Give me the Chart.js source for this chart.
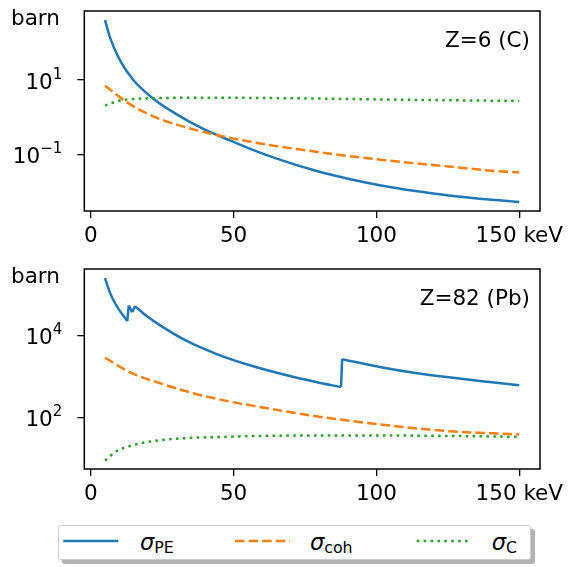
<!DOCTYPE html>
<html>
<head>
<meta charset="utf-8">
<script src="https://cdn.jsdelivr.net/npm/chart.js@4.4.1/dist/chart.umd.min.js"></script>
<style>
  html, body { margin: 0; padding: 0; background: #fff; }
  #wrap { position: relative; width: 576px; height: 567px; overflow: hidden; font-family: "DejaVu Sans"; }
  #wrap canvas { position: absolute; left: 0; }
  #chartC { top: 0; }
  #chartPb { top: 258px; }
  .legend { position: absolute; left: 58px; top: 525px; width: 471px; height: 33px;
            border: 1px solid #cccccc; border-radius: 3px; background: #fff;
            box-shadow: 4px 4px 0 #b3b3b3; }
  .legend svg { position: absolute; left: 0; top: 0; }
  .lab { position: absolute; top: 5px; font-size: 22.5px; line-height: 1; color: #000; white-space: nowrap; }
  .lab i { font-style: oblique; }
  .lab sub { font-size: 15.8px; vertical-align: -3.4px; line-height: 1; }
</style>
</head>
<body>
<div id="wrap">
  <canvas id="chartC" width="576" height="250"></canvas>
  <canvas id="chartPb" width="576" height="250"></canvas>
  <div class="legend">
    <svg width="471" height="33">
      <line x1="4.3" y1="15" x2="59.3" y2="15" stroke="#1f77b4" stroke-width="2.5"/>
      <line x1="176" y1="15" x2="231" y2="15" stroke="#ff7f0e" stroke-width="2.5" stroke-dasharray="9.5 4.1"/>
      <line x1="357.7" y1="15" x2="412.7" y2="15" stroke="#2ca02c" stroke-width="2.5" stroke-dasharray="2.6 4.3"/>
    </svg>
    <span class="lab" style="left:81px"><i>σ</i><sub>PE</sub></span>
    <span class="lab" style="left:251px"><i>σ</i><sub>coh</sub></span>
    <span class="lab" style="left:432.7px"><i>σ</i><sub>C</sub></span>
  </div>
</div>
<script>
const xTicks = [0, 50, 100, 150];
const cTicks = [0.1, 10];
const pbTicks = [100, 10000];

// Z=6 (C), cross sections in barn against photon energy in keV
const cEnergyPE = [5, 6.7, 10.2, 14.9, 21.9, 30.1, 39.4, 47.5, 56, 67.2, 78.8, 90.5, 102.1, 113.7, 125.3, 140.4, 150];
const cPE = [393, 138, 33.1, 9.77, 3.09, 1.175, 0.479, 0.257, 0.138, 0.0676, 0.0363, 0.0219, 0.01445, 0.01035, 0.00785, 0.00603, 0.00531];
const cEnergyCoh = [5, 12.6, 21.9, 30.1, 41.7, 56, 78.8, 102.1, 125.3, 140.4, 150];
const cCoh = [6.9, 2.49, 1.04, 0.625, 0.361, 0.216, 0.117, 0.0706, 0.047, 0.0363, 0.0325];
const cEnergyC = [5, 10.3, 16.1, 22.6, 35, 56, 80, 102, 125, 150];
const cCompton = [2.04, 2.77, 3.07, 3.18, 3.27, 3.24, 3.10, 2.94, 2.80, 2.69];

// Z=82 (Pb)
const pbEnergyPE = [5, 6.8, 8.0, 9.7, 12.8, 13.3, 14.5, 15.5, 19.6, 24.3, 33.6, 44.1, 56, 67.2, 78.8, 87.6, 88.0, 102.1, 113.7, 125.3, 140.4, 150];
const pbPE = [249000, 107000, 70800, 44300, 22300, 53300, 36800, 51500, 29500, 17500, 7280, 3490, 1830, 1120, 728, 547, 2620, 1640, 1200, 944, 716, 605];
const pbEnergyCoh = [5, 13.8, 24.3, 35.9, 47.5, 56, 78.8, 102.1, 125.3, 140.4, 150];
const pbCoh = [2840, 1250, 676, 387, 251, 195, 106, 66, 45.7, 40.7, 38];
const pbEnergyC = [5, 9.1, 13.8, 18.5, 26.6, 35.9, 47.5, 56, 80, 102, 125, 150];
const pbCompton = [8.8, 15.0, 19.9, 23.9, 28.7, 31.6, 33.3, 34.7, 35.9, 35.9, 35.0, 33.4];

const FONT = 'DejaVu Sans';
const BLUE = '#1f77b4', ORANGE = '#ff7f0e', GREEN = '#2ca02c';

function pts(xs, ys) {
  return xs.map((x, i) => ({ x: x, y: ys[i] }));
}

// photoelectric curve: smooth between absorption edges, straight jumps at the edges
function peSets(xs, ys) {
  const out = [];
  let run = [0];
  const flush = () => {
    out.push({ data: run.map(i => ({ x: xs[i], y: ys[i] })), borderColor: BLUE, order: 3,
               cubicInterpolationMode: 'monotone' });
  };
  for (let i = 1; i < xs.length; i++) {
    if (ys[i] > ys[i - 1]) {
      flush();
      out.push({ data: pts([xs[i - 1], xs[i]], [ys[i - 1], ys[i]]), borderColor: BLUE, order: 3 });
      run = [i];
    } else {
      run.push(i);
    }
  }
  flush();
  return out;
}

function sets(ePE, pe, eCoh, coh, eC, comp) {
  return peSets(ePE, pe).concat([
    { data: pts(eCoh, coh), borderColor: ORANGE, borderDash: [9.5, 4.1], order: 2,
      cubicInterpolationMode: 'monotone' },
    { data: pts(eC, comp), borderColor: GREEN, borderDash: [2.6, 4.3], order: 1,
      cubicInterpolationMode: 'monotone' }
  ]);
}

// box round the axes, 10^n labels, unit and element name
const frame = {
  id: 'frame',
  afterDraw(chart, args, opts) {
    const ctx = chart.ctx;
    const a = chart.chartArea;
    const y = chart.scales.y;
    ctx.save();
    ctx.strokeStyle = '#000';
    ctx.lineWidth = 1.5;
    ctx.strokeRect(a.left, a.top, a.right - a.left, a.bottom - a.top);
    ctx.fillStyle = '#000';
    ctx.textAlign = 'right';
    ctx.textBaseline = 'alphabetic';
    y.ticks.forEach(t => {
      const py = y.getPixelForValue(t.value);
      const exp = String(Math.round(Math.log10(t.value))).replace('-', '\u2212');
      const xr = a.left - 22;
      ctx.font = '15px "' + FONT + '"';
      const we = ctx.measureText(exp).width;
      ctx.fillText(exp, xr, py - 1);
      ctx.font = '21.5px "' + FONT + '"';
      ctx.fillText('10', xr - we, py + 9);
    });
    ctx.font = '21.5px "' + FONT + '"';
    ctx.textAlign = 'left';
    ctx.fillText('barn', 11, a.top + 14);
    ctx.textAlign = 'right';
    ctx.fillText(opts.title, a.right - 10, a.top + 36);
    ctx.restore();
  }
};

function makeChart(id, datasets, yMin, yMax, yTicks, title) {
  return new Chart(document.getElementById(id), {
    type: 'line',
    data: { datasets: datasets },
    options: {
      responsive: false,
      animation: false,
      layout: { padding: { left: 0, top: 11, right: 36, bottom: 0 } },
      elements: {
        point: { radius: 0 },
        line: { borderWidth: 2.5, fill: false, tension: 0 }
      },
      plugins: {
        legend: { display: false },
        tooltip: { enabled: false },
        frame: { title: title }
      },
      scales: {
        x: {
          type: 'linear',
          min: -2.25,
          max: 157.25,
          afterBuildTicks: s => { s.ticks = xTicks.map(v => ({ value: v })); },
          afterFit: s => { s.height = 39; },
          grid: { drawOnChartArea: false, color: '#000', lineWidth: 1.3, tickLength: 7 },
          border: { display: false },
          ticks: {
            color: '#000',
            font: { family: FONT, size: 21.5 },
            padding: 6,
            maxRotation: 0,
            autoSkip: false,
            callback: v => v === 150 ? '150 keV' : String(v)
          }
        },
        y: {
          type: 'logarithmic',
          min: yMin,
          max: yMax,
          afterBuildTicks: s => { s.ticks = yTicks.map(v => ({ value: v })); },
          afterFit: s => { s.width = 84.3; },
          grid: { drawOnChartArea: false, color: '#000', lineWidth: 1.3, tickLength: 7 },
          border: { display: false },
          ticks: { autoSkip: false, callback: () => '' }
        }
      }
    },
    plugins: [frame]
  });
}

makeChart('chartC', sets(cEnergyPE, cPE, cEnergyCoh, cCoh, cEnergyC, cCompton),
  0.00303, 688, cTicks, 'Z=6 (C)');
makeChart('chartPb', sets(pbEnergyPE, pbPE, pbEnergyCoh, pbCoh, pbEnergyC, pbCompton),
  5.46, 416000, pbTicks, 'Z=82 (Pb)');
</script>
</body>
</html>
